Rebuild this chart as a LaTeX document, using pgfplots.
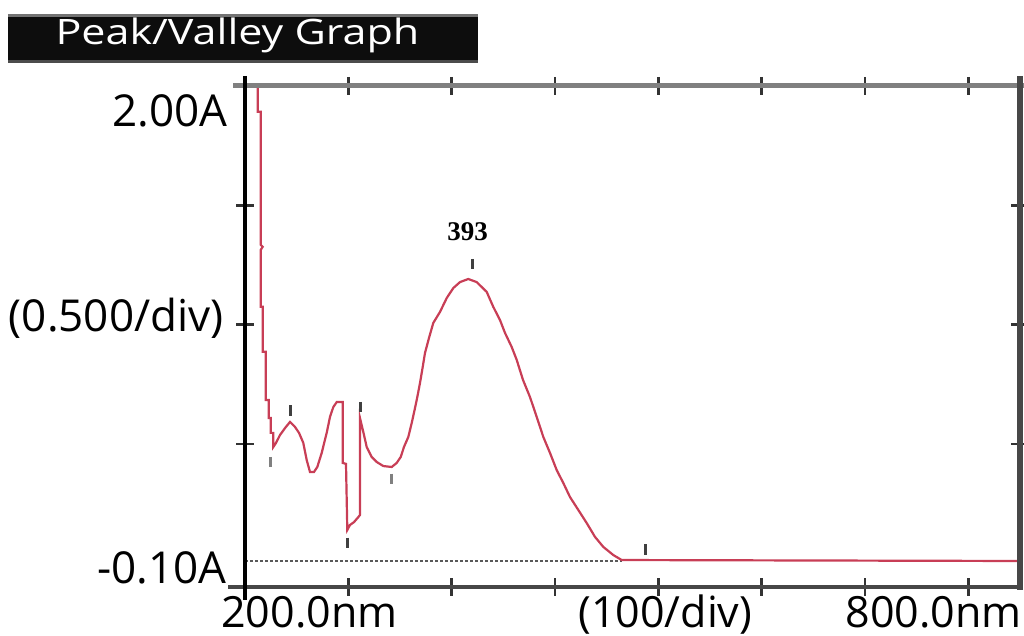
\documentclass[border=0pt]{standalone}
\usepackage{pgfplots}
\pgfplotsset{compat=1.18}
\usepackage{fontspec}
\setmainfont{Open Sans}
\newfontfamily\numfont{Liberation Serif}
\definecolor{spec}{RGB}{200,62,86}
\definecolor{frameA}{RGB}{128,128,128}
\definecolor{frameB}{RGB}{71,71,71}

\begin{document}
\begin{tikzpicture}
\path[use as bounding box] (0,0) rectangle (512pt,318pt);
\begin{axis}[
  at={(122.5pt,24.5pt)}, anchor=south west,
  scale only axis, width=387.5pt, height=250.5pt,
  xmin=200, xmax=950, ymin=-0.1, ymax=2.0,
  xtick={300,400,...,900}, ytick={0.5,1.0,1.5},
  xticklabels={}, yticklabels={},
  axis line style={draw=none},
  tick align=center, major tick length=9pt,
  major tick style={line width=1.3pt, color=black!80},
  clip=false]
% baseline
\addplot[black!65, line width=1pt, dash pattern=on 1.5pt off 1pt] coordinates {(200,0.009) (564.55,0.009)};
% spectrum
\addplot[spec, line width=1.1pt] coordinates {
(212.29,2.00) (212.29,1.892) (215.19,1.892) (215.19,1.334) (217.13,1.326)
(215.19,1.313) (215.19,1.075) (217.13,1.075) (217.13,0.886) (220.03,0.886)
(220.03,0.684) (222.94,0.684) (222.94,0.608) (224.87,0.608) (224.87,0.546)
(227.39,0.546) (227.39,0.487) (230.0,0.504) (233.87,0.537) (238.71,0.566)
(243.55,0.592) (248.39,0.571) (252.26,0.546) (256.42,0.504) (259.71,0.432)
(262.90,0.382) (266.77,0.382) (269.97,0.403) (274.23,0.462) (279.06,0.546)
(282.26,0.613) (285.45,0.654) (288.74,0.675) (294.55,0.675) (294.55,0.420)
(297.74,0.416) (299.00,0.139) (301.61,0.160) (305.48,0.172) (309.65,0.193)
(311.29,0.202) (311.29,0.608) (314.48,0.550) (317.77,0.487) (322.61,0.445)
(327.45,0.424) (333.84,0.407) (341.97,0.403) (346.81,0.420) (350.68,0.445)
(353.87,0.487) (358.03,0.529) (361.32,0.587) (364.52,0.650) (366.74,0.696)
(369.35,0.755) (371.97,0.822) (374.19,0.881) (378.06,0.944) (382.23,1.007)
(388.71,1.053) (395.19,1.111) (401.58,1.153) (408.06,1.178) (416.10,1.191)
(424.23,1.178) (433.90,1.137) (440.29,1.074) (446.77,1.019) (451.61,0.965)
(458.10,0.906) (462.94,0.852) (469.03,0.768) (475.81,0.696) (482.29,0.613)
(488.68,0.529) (495.16,0.462) (501.65,0.390) (508.03,0.336) (514.52,0.277)
(522.55,0.223) (530.68,0.168) (538.71,0.110) (546.74,0.068) (556.42,0.034)
(564.55,0.013) (950,0.009)};
% peak / valley markers
\addplot[only marks, mark=|, mark size=2.6pt, mark options={line width=1.5pt}, color=black!75]
  coordinates {(244.5,0.640) (299.4,0.085) (311.3,0.654) (420.6,1.254) (587.1,0.057)};
\addplot[only marks, mark=|, mark size=2.6pt, mark options={line width=1.5pt}, color=black!50]
  coordinates {(224.9,0.424) (341.3,0.353)};
% frame
\draw[frameA, line width=2.5pt] ([xshift=-6pt]rel axis cs:0,1) -- ([xshift=2pt]rel axis cs:1,1);
\draw[frameB, line width=2.3pt] ([xshift=-8.5pt]rel axis cs:0,0) -- ([xshift=1pt]rel axis cs:1,0);
\draw[frameB, line width=3pt] ([yshift=5pt]rel axis cs:1,1) -- ([yshift=-1.5pt]rel axis cs:1,0);
\draw[black, line width=2pt] ([yshift=5pt]rel axis cs:0,1) -- ([yshift=-6.5pt]rel axis cs:0,0);
\end{axis}
% title box
\fill[black!95] (4pt,286.5pt) rectangle (239pt,311pt);
\fill[black!55] (4pt,309.7pt) rectangle (239pt,311pt);
\fill[black!70] (4pt,286.5pt) rectangle (239pt,288pt);
\node[anchor=base, text=white, font=\fontsize{17.5}{20}\selectfont, inner sep=0pt] at (118.75pt,295.5pt) {\scalebox{1.23}[1]{Peak/Valley Graph}};
% axis labels
\node[anchor=base east, font=\fontsize{22}{26}\selectfont, inner sep=0pt] at (114pt,254.7pt) {2.00A};
\node[anchor=base east, font=\fontsize{22}{26}\selectfont, inner sep=0pt] at (112pt,152.2pt) {(0.500/div)};
\node[anchor=base east, font=\fontsize{22}{26}\selectfont, inner sep=0pt] at (113.5pt,26.3pt) {-0.10A};
\node[anchor=base west, font=\fontsize{21.5}{26}\selectfont, inner sep=0pt] at (110.5pt,4pt) {200.0nm};
\node[anchor=base west, font=\fontsize{21.5}{26}\selectfont, inner sep=0pt] at (289pt,4pt) {(100/div)};
\node[anchor=base east, font=\fontsize{21.5}{26}\selectfont, inner sep=0pt] at (511pt,4pt) {800.0nm};
% peak label
\node[font=\numfont\bfseries\fontsize{13.5}{16}\selectfont, inner sep=0pt] at (233.75pt,202pt) {393};
\end{tikzpicture}
\end{document}
